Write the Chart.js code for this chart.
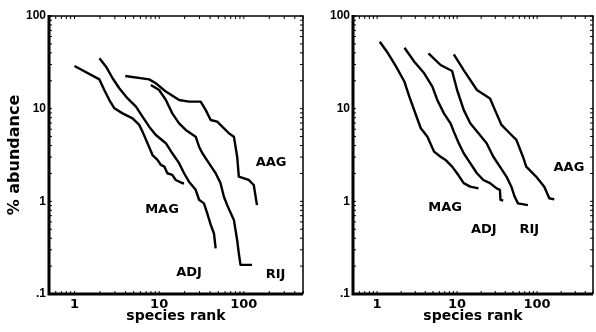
<!DOCTYPE html>
<html>
<head>
<meta charset="utf-8">
<script src="https://cdn.jsdelivr.net/npm/chart.js@4/dist/chart.umd.min.js"></script>
<style>
  body { margin: 0; background: #fff; overflow: hidden; width: 596px; height: 332px; position: relative; }
  canvas { position: absolute; top: 0; }
  #leftChart { left: 0; }
  #rightChart { left: 304px; }
</style>
</head>
<body>
<canvas id="leftChart" width="306" height="332"></canvas>
<canvas id="rightChart" width="292" height="332"></canvas>
<script>
// left panel
const leftMagRank = [1, 1.97, 2.25, 2.58, 2.96, 3.7, 4.85, 5.82, 6.36, 7.29, 8.35, 9.55, 10.5, 11.5, 12.5, 14.3, 15.7, 18.8, 19.7];
const leftMagAbund = [28.9, 20.7, 15.9, 12.4, 10.1, 8.9, 7.87, 6.67, 5.65, 4.24, 3.16, 2.8, 2.47, 2.37, 2.01, 1.93, 1.7, 1.57, 1.57];
const leftAdjRank = [1.97, 2.36, 2.82, 3.38, 4.24, 5.32, 6.36, 7.62, 9.14, 12, 14.3, 17.2, 19.7, 22.5, 27, 29.6, 33.8, 37, 40.6, 44.4, 46.5];
const leftAdjAbund = [34.9, 28.4, 21.3, 16.6, 12.9, 10.5, 8.2, 6.4, 5.2, 4.24, 3.3, 2.58, 2.01, 1.63, 1.33, 1.04, 0.95, 0.74, 0.56, 0.45, 0.31];
const leftRijRank = [7.98, 10, 12, 14.3, 17.2, 20.6, 27, 29.6, 32.4, 38.7, 46.5, 53.1, 58.2, 63.6, 76.3, 83.5, 87.3, 91.4, 125];
const leftRijAbund = [18, 15.9, 12.4, 8.9, 6.95, 5.89, 4.99, 3.89, 3.3, 2.58, 2.01, 1.57, 1.12, 0.91, 0.63, 0.38, 0.275, 0.206, 0.206];
const leftAagRank = [3.98, 7.62, 9.14, 12, 17.2, 22.5, 30.9, 35.4, 40.6, 48.5, 55.6, 66.6, 76.3, 83.5, 87.3, 114, 131, 143];
const leftAagAbund = [22.5, 20.7, 18.8, 15.3, 12.4, 11.9, 11.9, 9.7, 7.55, 7.25, 6.4, 5.43, 4.99, 3.03, 1.85, 1.7, 1.5, 0.91];

// right panel
const rightMagRank = [1.08, 1.37, 1.73, 2.2, 2.53, 3.06, 3.52, 4.26, 5.15, 6.22, 7.17, 8.67, 10, 12.1, 14.6, 18.5];
const rightMagAbund = [52.8, 39.6, 28.4, 19.5, 13.5, 8.55, 6.15, 4.99, 3.44, 3.03, 2.8, 2.37, 2.01, 1.57, 1.44, 1.38];
const rightAdjRank = [2.2, 2.92, 3.88, 4.91, 5.66, 6.85, 8.28, 9.1, 10.5, 12.1, 14.6, 17.7, 21.3, 25.8, 31.2, 34.3, 34.9, 37.7];
const rightAdjAbund = [45.5, 32.1, 24.1, 17.3, 12.4, 8.9, 6.95, 5.65, 4.24, 3.3, 2.58, 2.01, 1.7, 1.57, 1.38, 1.33, 1.04, 1.02];
const rightRijRank = [4.39, 6.22, 8.67, 10, 12.1, 14.6, 18.5, 23.4, 28.4, 34.3, 41.4, 47.7, 52.5, 57.7, 76.7];
const rightRijAbund = [39.6, 29.6, 25.5, 15.9, 9.7, 6.95, 5.43, 4.24, 3.03, 2.37, 1.85, 1.44, 1.12, 0.95, 0.91];
const rightAagRank = [9.1, 12.1, 17.7, 25.8, 29.7, 35.9, 45.5, 55.1, 66.6, 73.1, 97.2, 123, 142, 164];
const rightAagAbund = [38.6, 26.1, 15.9, 12.9, 9.7, 6.67, 5.43, 4.6, 3.03, 2.37, 1.85, 1.44, 1.08, 1.05];

const curveNames = ['MAG', 'ADJ', 'RIJ', 'AAG'];
const leftLabelRank = [10.8, 22.5, 237, 210];
const leftLabelAbund = [0.81, 0.17, 0.16, 2.6];
const rightLabelRank = [7.1, 21.6, 80, 250];
const rightLabelAbund = [0.85, 0.49, 0.49, 2.3];

const decadeLabels = { 0.1: '.1', 1: '1', 10: '10', 100: '100' };


function zip(ranks, abund) {
    return ranks.map((r, i) => ({ x: r, y: abund[i] }));
}


// frame with thick left/bottom sides and small inward log ticks
const framePlugin = {
    id: 'frame',
    afterDraw(chart) {
        const ctx = chart.ctx;
        const a = chart.chartArea;
        const xs = chart.scales.x;
        const ys = chart.scales.y;
        ctx.save();
        ctx.strokeStyle = '#000';
        ctx.lineWidth = 1.5;
        ctx.beginPath();
        ctx.moveTo(a.left, a.top); ctx.lineTo(a.right, a.top);
        ctx.lineTo(a.right, a.bottom);
        ctx.stroke();
        ctx.lineWidth = 3;
        ctx.beginPath();
        ctx.moveTo(a.left, a.top - 1); ctx.lineTo(a.left, a.bottom);
        ctx.lineTo(a.right, a.bottom);
        ctx.stroke();

        ctx.lineWidth = 1;
        ctx.beginPath();
        [0.1, 1, 10, 100].forEach(d => {
            for (let m = 1; m < 10; m++) {
                const v = d * m;
                if (v >= 0.5 && v <= 500) {
                    const px = xs.getPixelForValue(v);
                    ctx.moveTo(px, a.bottom); ctx.lineTo(px, a.bottom - 3);
                    ctx.moveTo(px, a.top); ctx.lineTo(px, a.top + 3);
                }
                if (v >= 0.1 && v <= 100) {
                    const py = ys.getPixelForValue(v);
                    ctx.moveTo(a.left, py); ctx.lineTo(a.left + 3, py);
                    ctx.moveTo(a.right, py); ctx.lineTo(a.right - 3, py);
                }
            }
        });
        ctx.stroke();
        ctx.restore();
    }
};


// curve names placed at data positions
const curveLabelPlugin = {
    id: 'curveLabels',
    afterDatasetsDraw(chart, args, opts) {
        const ctx = chart.ctx;
        ctx.save();
        ctx.fillStyle = '#000';
        ctx.font = 'bold 13px "DejaVu Sans"';
        ctx.textAlign = 'center';
        ctx.textBaseline = 'middle';
        opts.names.forEach((name, i) => {
            const px = chart.scales.x.getPixelForValue(opts.ranks[i]);
            const py = chart.scales.y.getPixelForValue(opts.abund[i]);
            ctx.fillText(name, px, py);
        });
        ctx.restore();
    }
};


function makePanel(canvasId, series, labelRanks, labelAbund, showYTitle, rightPad) {
    const datasets = series.map(s => ({
        data: zip(s[0], s[1]),
        borderColor: '#000',
        borderWidth: 2.4,
        pointRadius: 0,
        tension: 0,
        borderJoinStyle: 'round',
        fill: false
    }));

    return new Chart(document.getElementById(canvasId), {
        type: 'line',
        data: { datasets: datasets },
        options: {
            responsive: false,
            animation: false,
            layout: { padding: { top: 16, right: rightPad, left: 0, bottom: 0 } },
            plugins: {
                legend: { display: false },
                tooltip: { enabled: false },
                curveLabels: { names: curveNames, ranks: labelRanks, abund: labelAbund }
            },
            scales: {
                x: {
                    type: 'logarithmic',
                    min: 0.5,
                    max: 500,
                    grid: { display: false, drawTicks: false },
                    border: { display: false },
                    ticks: {
                        autoSkip: false,
                        maxRotation: 0,
                        padding: 3,
                        color: '#000',
                        font: { family: 'DejaVu Sans', weight: 'bold', size: 13 },
                        callback: v => decadeLabels[v] && v >= 1 ? decadeLabels[v] : ''
                    },
                    title: {
                        display: true,
                        text: 'species rank',
                        color: '#000',
                        font: { family: 'DejaVu Sans', weight: 'bold', size: 14 },
                        padding: { top: 0, bottom: 7 }
                    },
                    afterFit: scale => { scale.height = 38; }
                },
                y: {
                    type: 'logarithmic',
                    min: 0.1,
                    max: 100,
                    grid: { display: false, drawTicks: false },
                    border: { display: false },
                    ticks: {
                        autoSkip: false,
                        padding: 3,
                        color: '#000',
                        font: { family: 'Liberation Sans', weight: 'bold', size: 12 },
                        callback: v => decadeLabels[v] || ''
                    },
                    title: {
                        display: showYTitle,
                        text: '% abundance',
                        color: '#000',
                        font: { family: 'DejaVu Sans', weight: 'bold', size: 16 },
                        padding: { top: 5, bottom: 0 }
                    },
                    afterFit: scale => { scale.width = 49; }
                }
            }
        },
        plugins: [framePlugin, curveLabelPlugin]
    });
}


makePanel('leftChart', [
    [leftMagRank, leftMagAbund],
    [leftAdjRank, leftAdjAbund],
    [leftRijRank, leftRijAbund],
    [leftAagRank, leftAagAbund]
], leftLabelRank, leftLabelAbund, true, 2);

makePanel('rightChart', [
    [rightMagRank, rightMagAbund],
    [rightAdjRank, rightAdjAbund],
    [rightRijRank, rightRijAbund],
    [rightAagRank, rightAagAbund]
], rightLabelRank, rightLabelAbund, false, 0);
</script>
</body>
</html>
